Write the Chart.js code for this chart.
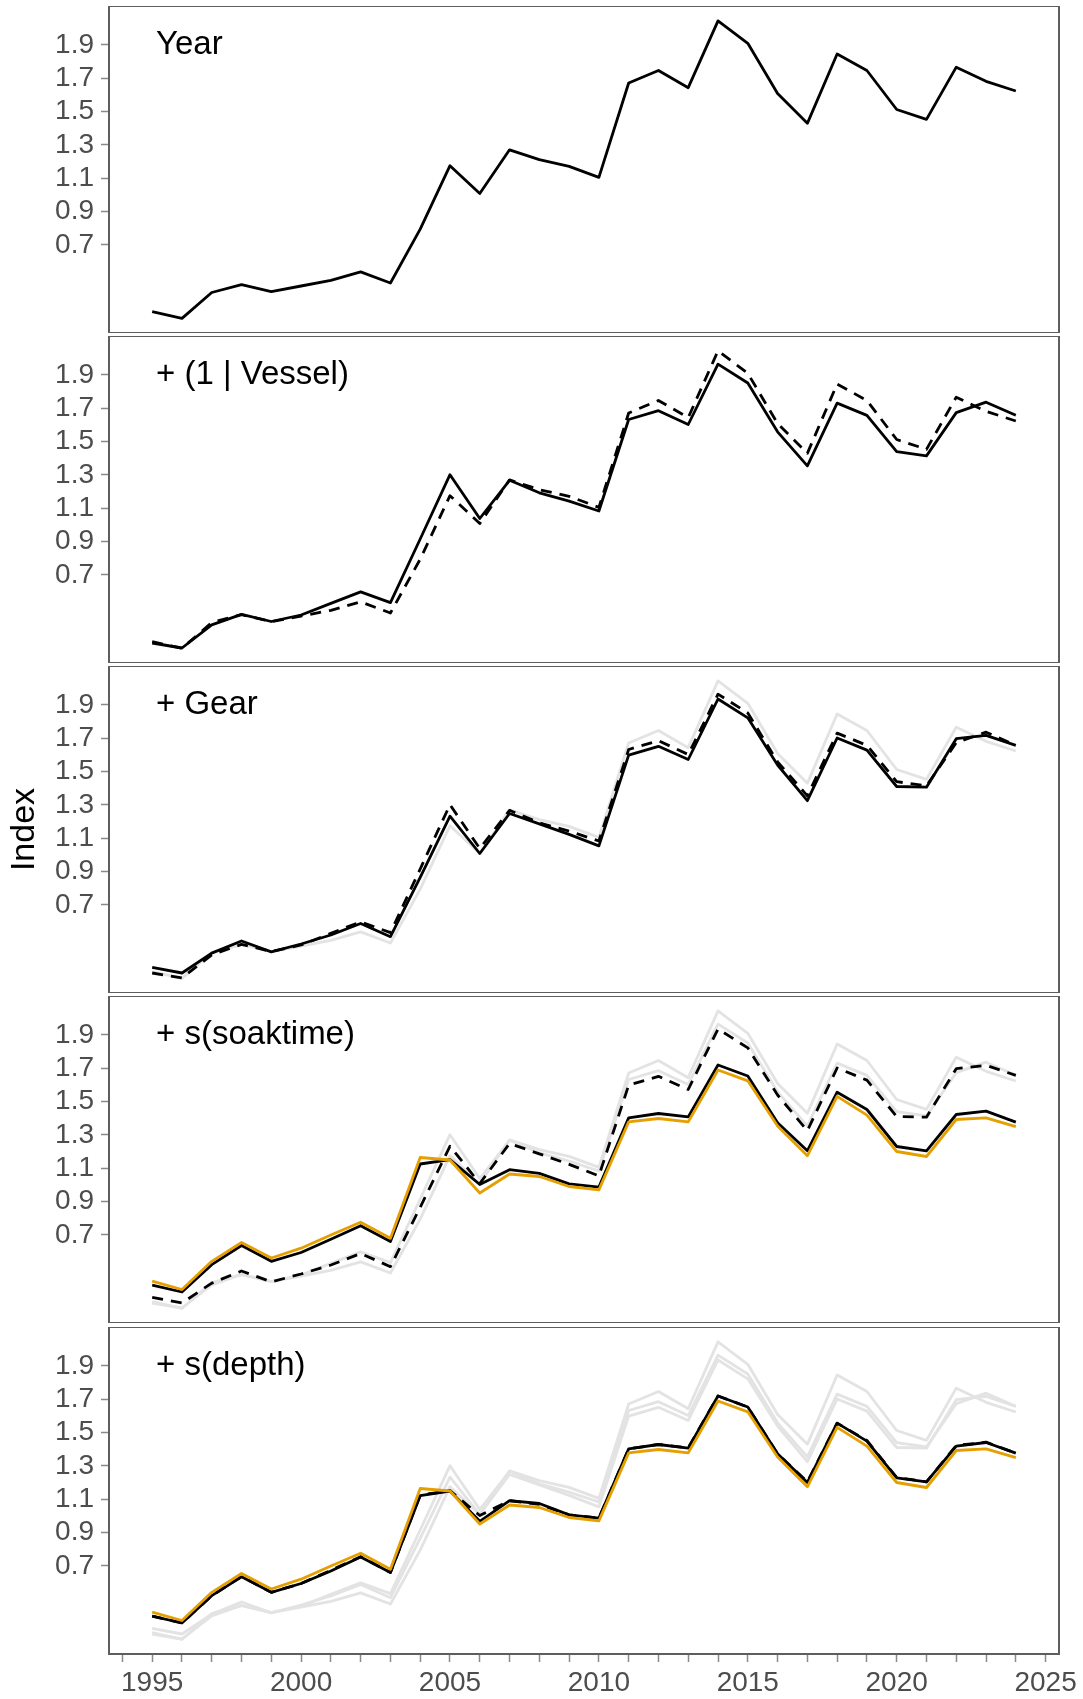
<!DOCTYPE html>
<html>
<head>
<meta charset="utf-8">
<script src="https://cdn.jsdelivr.net/npm/chart.js@4.4.1/dist/chart.umd.min.js"></script>
<style>
  body { margin: 0; background: #fff; }
  #wrap { position: relative; width: 1083px; height: 1699px; }
  #wrap canvas { position: absolute; left: 0; }
</style>
</head>
<body>
<div id="wrap"></div>
<script>
var years = [1995, 1996, 1997, 1998, 1999, 2000, 2001, 2002, 2003, 2004,
             2005, 2006, 2007, 2008, 2009, 2010, 2011, 2012, 2013, 2014,
             2015, 2016, 2017, 2018, 2019, 2020, 2021, 2022, 2023, 2024];

// index after each model step
var idxYear = [0.300, 0.260, 0.415, 0.462, 0.420, 0.454, 0.488, 0.539, 0.472, 0.795,
               1.176, 1.009, 1.271, 1.212, 1.172, 1.106, 1.672, 1.747, 1.644, 2.045,
               1.910, 1.609, 1.430, 1.846, 1.747, 1.513, 1.454, 1.767, 1.682, 1.624];
var idxVessel = [0.292, 0.262, 0.401, 0.464, 0.421, 0.460, 0.530, 0.599, 0.534, 0.916,
                 1.302, 1.039, 1.268, 1.193, 1.143, 1.084, 1.633, 1.686, 1.603, 1.965,
                 1.852, 1.559, 1.355, 1.731, 1.658, 1.440, 1.415, 1.674, 1.737, 1.658];
var idxGear = [0.326, 0.292, 0.411, 0.484, 0.419, 0.466, 0.520, 0.589, 0.510, 0.866,
               1.233, 1.009, 1.249, 1.187, 1.124, 1.055, 1.599, 1.652, 1.573, 1.936,
               1.823, 1.540, 1.326, 1.702, 1.629, 1.411, 1.407, 1.698, 1.718, 1.658];
var idxSoak = [0.399, 0.358, 0.522, 0.637, 0.542, 0.595, 0.674, 0.756, 0.661, 1.126,
               1.152, 1.003, 1.092, 1.070, 1.007, 0.987, 1.403, 1.429, 1.409, 1.720,
               1.654, 1.373, 1.205, 1.557, 1.453, 1.231, 1.205, 1.423, 1.443, 1.377];
var idxDepth = [0.399, 0.358, 0.522, 0.635, 0.542, 0.595, 0.670, 0.754, 0.661, 1.122,
                1.150, 0.968, 1.092, 1.075, 1.007, 0.987, 1.403, 1.429, 1.407, 1.720,
                1.654, 1.373, 1.201, 1.557, 1.449, 1.229, 1.205, 1.419, 1.441, 1.377];
var idxOrange = [0.423, 0.373, 0.542, 0.655, 0.562, 0.621, 0.700, 0.777, 0.680, 1.165,
                 1.150, 0.952, 1.066, 1.051, 0.991, 0.971, 1.379, 1.399, 1.379, 1.690,
                 1.625, 1.354, 1.175, 1.532, 1.419, 1.201, 1.171, 1.393, 1.403, 1.350];

var yTicks = [0.7, 0.9, 1.1, 1.3, 1.5, 1.7, 1.9];
var xLabels = [1995, 2000, 2005, 2010, 2015, 2020, 2025];
var panelNames = ['Year', '+ (1 | Vessel)', '+ Gear', '+ s(soaktime)', '+ s(depth)'];

var FONT = "'Liberation Sans', Arial, sans-serif";
Chart.defaults.font.family = FONT;

function pts(arr) {
    return years.map(function (yr, i) { return { x: yr, y: arr[i] }; });
}
function solid(arr) {
    return { data: pts(arr), borderColor: '#000', borderWidth: 2.8 };
}
function dashed(arr) {
    return { data: pts(arr), borderColor: '#000', borderWidth: 2.8, borderDash: [11, 8] };
}
function grey(arr) {
    return { data: pts(arr), borderColor: '#e3e3e3', borderWidth: 2.8 };
}
function orange(arr) {
    return { data: pts(arr), borderColor: '#E69F00', borderWidth: 2.8 };
}

// first dataset is drawn on top
var panels = [
    [solid(idxYear)],
    [dashed(idxYear), solid(idxVessel)],
    [dashed(idxVessel), solid(idxGear), grey(idxYear)],
    [orange(idxOrange), dashed(idxGear), solid(idxSoak), grey(idxYear), grey(idxVessel)],
    [orange(idxOrange), dashed(idxSoak), solid(idxDepth), grey(idxYear), grey(idxVessel), grey(idxGear)]
];

var panelFrame = {
    id: 'panelFrame',
    afterDatasetsDraw: function (chart, args, opts) {
        var a = chart.chartArea, ctx = chart.ctx;
        ctx.save();
        ctx.strokeStyle = '#5e5e5e';
        ctx.lineWidth = 2;
        ctx.strokeRect(a.left, a.top, a.right - a.left, a.bottom - a.top);
        ctx.fillStyle = '#000';
        ctx.font = '33px ' + FONT;
        ctx.textBaseline = 'alphabetic';
        ctx.fillText(opts.label, a.left + 47, a.top + 48);
        ctx.restore();
    }
};

var wrap = document.getElementById('wrap');
panels.forEach(function (sets, i) {
    var last = i === panels.length - 1;
    var c = document.createElement('canvas');
    c.width = 1083;
    c.height = last ? 372 : 327;
    c.style.top = (6 + 330 * i + (last ? 1 : 0)) + 'px';
    wrap.appendChild(c);

    sets.forEach(function (d) {
        d.pointRadius = 0;
        d.fill = false;
        d.tension = 0;
        d.borderJoinStyle = 'round';
    });

    new Chart(c.getContext('2d'), {
        type: 'line',
        data: { datasets: sets },
        plugins: [panelFrame],
        options: {
            responsive: false,
            animation: false,
            devicePixelRatio: 1,
            layout: { padding: { left: 0, right: 24, top: 0, bottom: 0 } },
            plugins: {
                legend: { display: false },
                tooltip: { enabled: false },
                panelFrame: { label: panelNames[i] }
            },
            scales: {
                x: {
                    type: 'linear',
                    min: 1993.55,
                    max: 2025.45,
                    display: last,
                    afterBuildTicks: function (s) {
                        var t = [];
                        for (var yr = 1994; yr <= 2025; yr++) t.push({ value: yr });
                        s.ticks = t;
                    },
                    afterFit: function (s) {
                        s.height = last ? 45 : 0;
                        s.paddingLeft = 0;
                        s.paddingRight = 0;
                    },
                    ticks: {
                        autoSkip: false,
                        maxRotation: 0,
                        minRotation: 0,
                        color: '#4d4d4d',
                        font: { size: 28 },
                        padding: 4,
                        callback: function (v) { return xLabels.indexOf(v) >= 0 ? String(v) : ''; }
                    },
                    grid: { drawOnChartArea: false, tickLength: 8, tickColor: '#8a8a8a', tickWidth: 1.5 },
                    border: { display: false }
                },
                y: {
                    min: 0.172,
                    max: 2.134,
                    afterBuildTicks: function (s) {
                        s.ticks = yTicks.map(function (v) { return { value: v }; });
                    },
                    afterFit: function (s) {
                        s.width = 109;
                        s.paddingTop = 0;
                        s.paddingBottom = 0;
                    },
                    ticks: {
                        color: '#4d4d4d',
                        font: { size: 28 },
                        padding: 7,
                        callback: function (v) { return v.toFixed(1); }
                    },
                    grid: { drawOnChartArea: false, tickLength: 8, tickColor: '#8a8a8a', tickWidth: 1.5 },
                    border: { display: false },
                    title: { display: i === 2, text: 'Index', color: '#000', font: { size: 34 }, padding: 4 }
                }
            }
        }
    });
});
</script>
</body>
</html>
